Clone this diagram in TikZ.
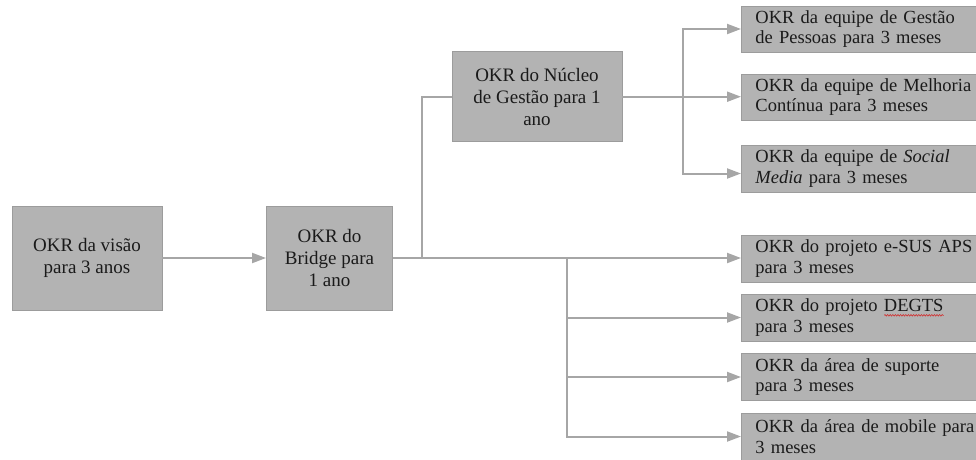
\documentclass[tikz,border=0pt]{standalone}
\usepackage{fontspec}
\setmainfont{Liberation Serif}
\usetikzlibrary{arrows.meta,decorations.pathmorphing}
\definecolor{boxfill}{HTML}{B3B3B3}
\definecolor{boxline}{HTML}{9C9C9C}
\definecolor{wire}{HTML}{A6A6A6}
\definecolor{ink}{HTML}{1A1A1A}
\definecolor{spellred}{HTML}{D03030}
% thin red wavy underline below a word
\newlength\wavelen
\newcommand\redwave[1]{\settowidth\wavelen{#1}%
  \rlap{\raisebox{-3.6pt}{\tikz[baseline=0pt]\draw[spellred, line width=0.6pt,
    decorate, decoration={snake, amplitude=0.8pt, segment length=2.6pt}]
    (0pt,0pt) -- (\wavelen,0pt);}}#1}
\begin{document}
\begin{tikzpicture}[x=1pt,y=-1pt,
  okr/.style={draw=boxline, fill=boxfill, line width=0.9pt, inner sep=0pt,
    font=\fontsize{19}{22}\selectfont, text=ink, align=center},
  leaf/.style={okr, anchor=west, minimum height=47pt, text width=236pt,
    inner xsep=14pt, align=left, font=\fontsize{18.5}{20.5}\selectfont},
  wireline/.style={draw=wire, line width=2pt},
  link/.style={wireline, -{Triangle[length=14pt,width=10pt]}}]
  \useasboundingbox (0,0) rectangle (976,459);
  \clip (0,0) rectangle (976,459);

  % main chain
  \node[okr, minimum width=150pt, minimum height=104pt] (vision) at (87,258)
    {OKR da visão\\para 3 anos};
  \node[okr, minimum width=126pt, minimum height=104pt] (bridge) at (329.5,258)
    {OKR do\\Bridge para\\1 ano};
  \node[okr, minimum width=170pt, minimum height=90pt] (nucleo) at (537,96.7)
    {OKR do Núcleo\\de Gestão para 1\\ano};

  % quarterly team objectives
  \node[leaf, minimum height=46pt] (pessoas) at (741,29)
    {OKR da equipe de Gestão\\de Pessoas para 3 meses};
  \node[leaf, minimum height=46pt] (melhoria) at (741,97)
    {OKR da equipe de Melhoria\\Contínua para 3 meses};
  \node[leaf] (social) at (741,168.5)
    {OKR da equipe de \textit{Social}\\\textit{Media} para 3 meses};

  % quarterly project and area objectives
  \node[leaf] (esus) at (741,258.5)
    {OKR do projeto e-SUS APS\\para 3 meses};
  \node[leaf] (degts) at (741,317.5)
    {OKR do projeto \redwave{DEGTS}\\para 3 meses};
  \node[leaf] (suporte) at (741,377)
    {OKR da área de suporte\\para 3 meses};
  \node[leaf] (mobile) at (741,436.5)
    {OKR da área de mobile para\\3 meses};

  % junction points
  \coordinate (split) at (422,258);
  \coordinate (fork) at (567,258);
  \coordinate (hub) at (683,97);

  % connectors
  \draw[link] (vision) -- (bridge);
  \draw[wireline] (bridge.east) -- (split) |- (nucleo.west);
  \draw[link] (bridge.east) -- (bridge.east -| esus.west);
  \draw[link] (fork) |- (degts.west);
  \draw[link] (fork) |- (suporte.west);
  \draw[link] (fork) |- (mobile.west);
  \draw[link] (nucleo.east) -- (nucleo.east -| melhoria.west);
  \draw[link] (hub) |- (pessoas.west);
  \draw[link] (hub) |- ([yshift=-5pt]social.west);
\end{tikzpicture}
\end{document}
